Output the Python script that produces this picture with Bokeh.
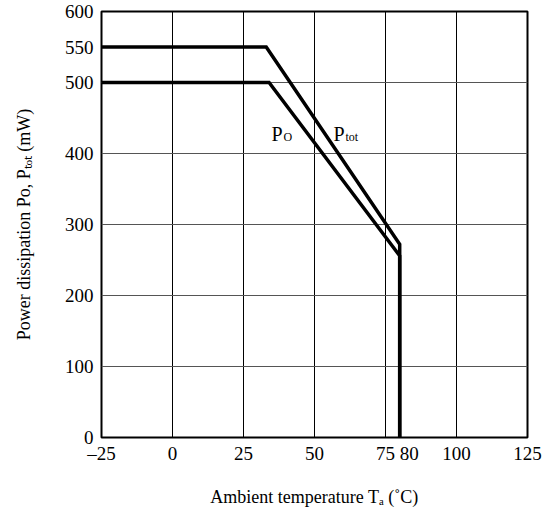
from bokeh.plotting import figure
from bokeh.models import Range1d, FixedTicker, Label
from bokeh.embed import file_html
from bokeh.resources import INLINE

# ---- data ----
x_ticks = [-25, 0, 25, 50, 75, 80, 100, 125]
y_ticks = [0, 100, 200, 300, 400, 500, 550, 600]
x_grid = [-25, 0, 25, 50, 75, 100, 125]
y_grid = [0, 100, 200, 300, 400, 500, 600]

temp_ptot = [-25, 33, 80, 80]
ptot = [550, 550, 272, 0]
temp_po = [-25, 34, 80, 80]
po = [500, 500, 256, 0]

x_title = "Ambient temperature T\u2090 (\u02daC)"
y_title = "Power dissipation Po, P\u209c\u2092\u209c (mW)"

FONT = "Liberation Serif"

p = figure(width=551, height=510, output_backend="svg", toolbar_location=None,
           x_range=Range1d(-25, 125), y_range=Range1d(0, 600),
           min_border_left=101, min_border_right=24, min_border_top=11, min_border_bottom=73)
p.background_fill_color = "white"
p.border_fill_color = "white"
p.outline_line_color = "black"
p.outline_line_width = 2

p.xaxis.ticker = FixedTicker(ticks=x_ticks)
p.yaxis.ticker = FixedTicker(ticks=y_ticks)
p.xgrid.ticker = FixedTicker(ticks=x_grid)
p.ygrid.ticker = FixedTicker(ticks=y_grid)
p.xgrid.grid_line_color = "black"
p.xgrid.grid_line_width = 1
p.ygrid.grid_line_color = "#555555"
p.ygrid.grid_line_width = 1

p.xaxis.major_label_overrides = {-25: "\u201325", 80: "\u200380"}
for ax in (p.xaxis, p.yaxis):
    ax.axis_line_color = None
    ax.major_tick_line_color = None
    ax.minor_tick_line_color = None
    ax.major_tick_out = 0
    ax.major_tick_in = 0
    ax.minor_tick_out = 0
    ax.major_label_text_font = FONT
    ax.major_label_text_font_size = "19px"
    ax.major_label_text_color = "black"
    ax.axis_label_text_font = FONT
    ax.axis_label_text_font_size = "18px"
    ax.axis_label_text_font_style = "normal"
    ax.axis_label_text_color = "black"
p.yaxis.major_label_standoff = 8
p.xaxis.major_label_standoff = 5
p.xaxis.axis_label = x_title
p.yaxis.axis_label = y_title
p.xaxis.axis_label_standoff = 20
p.yaxis.axis_label_standoff = 28

p.line(temp_ptot, ptot, line_color="black", line_width=3.5, line_join="miter")
p.line(temp_po, po, line_color="black", line_width=3.5, line_join="miter")

def lab(x, y, text, size, xo=0, yo=0):
    p.add_layout(Label(x=x, y=y, text=text, x_offset=xo, y_offset=yo,
                       text_font=FONT, text_font_size=size, text_color="black",
                       text_baseline="alphabetic", text_align="left"))

# curve labels
lab(34.9, 427, "P", "20px")
lab(34.9, 427, "O", "12px", xo=12, yo=-3)
lab(56.7, 427, "P", "20px")
lab(56.7, 427, "tot", "12px", xo=12, yo=-3)

open("out.html", "w").write(file_html(p, INLINE))
